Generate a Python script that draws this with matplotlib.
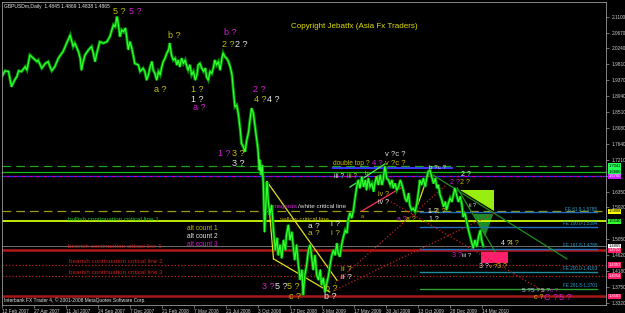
import numpy as np
import matplotlib
matplotlib.use("Agg")
import matplotlib.pyplot as plt
import matplotlib.transforms as mtransforms
from matplotlib.patches import Polygon, Rectangle

plt.rcParams["font.family"] = ["Liberation Sans", "DejaVu Sans"]

# daily closes: bar number counted from 12 Feb 2007, price
bars = [0, 5, 11, 16, 22, 25, 28, 33, 39, 42, 47, 53, 59, 61, 67, 73, 78, 81, 84, 89,
        95, 101, 103, 109, 115, 118, 120, 123, 129, 132, 134, 137, 140, 146, 151, 154, 157, 160, 165, 171,
        177, 182, 188, 191, 194, 196, 199, 202, 205, 208, 210, 213, 216, 219, 222, 224, 230, 233, 238, 241,
        244, 247, 250, 253, 255, 258, 261, 264, 267, 269, 272, 275, 278, 281, 283, 286, 289, 292, 295, 297,
        300, 303, 306, 309, 312, 314, 317, 320, 323, 326, 329, 331, 334, 337, 340, 343, 345, 348, 351, 354,
        357, 359, 362, 365, 368, 371, 373, 376, 379, 382, 385, 388, 390, 393, 396, 399, 402, 404, 407, 410,
        413, 416, 418, 421, 424, 427, 430, 432, 434, 435, 437, 439, 441, 443, 445, 447, 449, 452, 455, 458,
        461, 464, 466, 469, 472, 475, 478, 480, 483, 486, 489, 492, 494, 497, 500, 503, 506, 508, 511, 514,
        517, 520, 523, 525, 528, 531, 534, 537, 539, 542, 545, 548, 551, 553, 556, 559, 562, 565, 567, 570,
        573, 576, 579, 582, 584, 587, 590, 593, 596, 599, 601, 604, 607, 610, 613, 615, 618, 621, 624, 627,
        629, 632, 635, 638, 641, 643, 646, 649, 652, 655, 658, 660, 663, 666, 669, 672, 674, 677, 680, 683,
        686, 688, 691, 694, 697, 700, 703, 705, 708, 711, 714, 717, 719, 722, 725, 728, 731, 734, 736, 739,
        742, 745, 748, 750, 753, 756, 759, 762, 764, 767, 770, 773, 776, 778, 781, 784, 787, 790, 793, 795,
        798, 801, 804, 807, 809, 812]
close = [1.947, 1.963, 1.961, 1.920, 1.940, 1.947, 1.963, 1.961, 1.974, 1.965, 2.006, 1.997, 1.988, 1.992, 1.970, 1.983, 1.988, 1.974, 1.963, 1.974,
         1.997, 2.011, 2.015, 2.038, 2.060, 2.042, 2.029, 2.038, 2.015, 1.997, 1.965, 1.988, 2.006, 2.020, 2.029, 2.011, 1.988, 2.011, 2.042, 2.038,
         2.042, 2.056, 2.088, 2.083, 2.110, 2.092, 2.056, 2.074, 2.069, 2.079, 2.060, 2.021, 2.042, 2.024, 2.001, 1.983, 1.979, 1.961, 1.970, 1.961,
         1.938, 1.952, 1.974, 1.988, 1.965, 1.956, 1.938, 1.961, 1.952, 1.970, 1.988, 1.997, 2.011, 2.020, 2.038, 2.006, 1.992, 1.997, 1.979, 1.992,
         1.974, 1.997, 1.983, 1.992, 1.974, 1.965, 1.979, 1.952, 1.961, 1.938, 1.952, 1.979, 1.983, 1.970, 1.961, 1.970, 1.947, 1.938, 1.961, 1.956,
         1.974, 1.992, 1.979, 1.988, 1.965, 1.997, 2.011, 2.001, 1.997, 1.988, 1.974, 1.952, 1.915, 1.865, 1.870, 1.843, 1.802, 1.766, 1.757, 1.743,
         1.775, 1.797, 1.825, 1.861, 1.848, 1.811, 1.775, 1.748, 1.693, 1.721, 1.680, 1.707, 1.653, 1.525, 1.598, 1.661, 1.612, 1.571, 1.598, 1.530,
         1.476, 1.509, 1.462, 1.490, 1.454, 1.503, 1.476, 1.517, 1.544, 1.503, 1.525, 1.476, 1.449, 1.490, 1.435, 1.395, 1.422, 1.354, 1.408, 1.435,
         1.476, 1.490, 1.449, 1.422, 1.462, 1.408, 1.395, 1.422, 1.381, 1.400, 1.362, 1.386, 1.408, 1.431, 1.458, 1.476, 1.462, 1.494, 1.468, 1.458,
         1.490, 1.512, 1.530, 1.522, 1.558, 1.577, 1.563, 1.585, 1.621, 1.653, 1.666, 1.644, 1.675, 1.648, 1.666, 1.639, 1.671, 1.648, 1.657, 1.635,
         1.657, 1.675, 1.653, 1.680, 1.653, 1.666, 1.704, 1.671, 1.666, 1.653, 1.666, 1.644, 1.657, 1.639, 1.648, 1.666, 1.657, 1.639, 1.617, 1.607,
         1.630, 1.598, 1.585, 1.589, 1.580, 1.603, 1.639, 1.666, 1.653, 1.671, 1.648, 1.675, 1.689, 1.693, 1.675, 1.657, 1.671, 1.644, 1.653, 1.626,
         1.612, 1.594, 1.607, 1.585, 1.603, 1.617, 1.607, 1.630, 1.644, 1.626, 1.607, 1.621, 1.598, 1.566, 1.576, 1.553, 1.530, 1.512, 1.494, 1.481,
         1.503, 1.485, 1.512, 1.530, 1.503, 1.4865]

date_ticks = [0, 54, 108, 162, 216, 270, 324, 378, 432, 486, 540, 594, 648, 702, 756, 810]
date_labels = ["12 Feb 2007", "27 Apr 2007", "11 Jul 2007", "24 Sep 2007", "7 Dec 2007", "21 Feb 2008",
               "7 May 2008", "21 Jul 2008", "3 Oct 2008", "17 Dec 2008", "3 Mar 2009", "17 May 2009",
               "30 Jul 2009", "13 Oct 2009", "28 Dec 2009", "14 Mar 2010"]
price_ticks = [2.1100, 2.0670, 2.0240, 1.9810, 1.9370, 1.8940, 1.8510, 1.8080, 1.7640,
               1.7210, 1.6780, 1.6350, 1.5920, 1.5490, 1.5050, 1.4620, 1.4180, 1.3750, 1.3320]
# 1.6780 and 1.5490 sit under the level tags in the original, so no text is shown for them
price_labels = ["2.1100", "2.0670", "2.0240", "1.9810", "1.9370", "1.8940", "1.8510", "1.8080", "1.7640",
                "1.7210", "", "1.6350", "1.5920", "", "1.5050", "1.4620", "1.4180", "1.3750", "1.3320"]

# horizontal objects (price levels) and their tags on the price scale
levels = [1.7041, 1.6880, 1.6760, 1.5808, 1.5540, 1.4865, 1.4752, 1.4353, 1.4054, 1.3503]
level_tags = ["1.7041", "1.6880", "1.6760", "1.5808", "1.5540", "1.4865", "1.4752", "1.4353", "1.4054", "1.3503"]

# fibonacci expansion levels
fe_names = ["FE 61.8-1.5785", "FE 100.0-1.5394", "FE 161.8-1.4788", "FE 200.0-1.4163", "FE 261.8-1.3701"]
fe_levels = [1.5785, 1.5394, 1.4788, 1.4163, 1.3701]
fe_start, fe_end = 705, 1004

# trendlines: (bar1, price1, bar2, price2)
yellow_lines = [(447, 1.662, 565, 1.394), (447, 1.662, 458, 1.452), (458, 1.452, 553, 1.362), (697, 1.579, 722, 1.693)]
green_lines = [(727, 1.680, 953, 1.452), (768, 1.645, 832, 1.471)]
red_dotted = [(559, 1.365, 835, 1.579), (562, 1.386, 753, 1.658), (651, 1.612, 916, 1.362)]

Y, M, W = "#c8c000", "#d21ed2", "#e6e6e6"
# wave counts: text, bar, price, colour, size
waves = [
    ("5 ?", 197, 2.124, Y, 6.5), ("5 ?", 224, 2.124, M, 6.5),
    ("a ?", 267, 1.911, Y, 6.5), ("b ?", 290, 2.060, Y, 6.5),
    ("1 ?", 330, 1.911, Y, 6.5), ("1 ?", 330, 1.886, W, 6.5), ("a ?", 332, 1.862, M, 6.5),
    ("b ?", 385, 2.067, M, 6.5), ("2 ?", 381, 2.035, Y, 6.5), ("2 ?", 403, 2.035, W, 6.5),
    ("2 ?", 434, 1.913, M, 6.5), ("4 ?", 436, 1.884, Y, 6.5), ("4 ?", 458, 1.884, W, 6.5),
    ("1 ?", 375, 1.737, M, 6.5), ("3 ?", 398, 1.737, Y, 6.5), ("3 ?", 398, 1.710, W, 6.5),
    ("double top ?", 589, 1.712, Y, 4.8), ("4 ?", 633, 1.712, M, 5.5), ("v ?c ?", 663, 1.712, Y, 5.5),
    ("v ?c ?", 663, 1.736, W, 5.5), ("iii ?", 569, 1.677, W, 4.8), ("iii ?", 590, 1.677, Y, 4.8),
    ("b", 615, 1.683, Y, 4.5), ("d", 632, 1.674, Y, 4.5),
    ("iv ?", 643, 1.626, Y, 5.0), ("iv ?", 643, 1.604, W, 5.0), ("a", 607, 1.566, Y, 4.0),
    ("a ?", 674, 1.558, M, 5.0), ("a ?", 689, 1.558, Y, 5.0),
    ("1 ?", 727, 1.582, W, 5.0), ("1 ?", 741, 1.582, Y, 5.0), ("1 ?", 729, 1.558, W, 5.0),
    ("b ?c ?", 734, 1.699, W, 4.5), ("2 ?", 783, 1.680, W, 5.0), ("2 ?", 764, 1.660, M, 5.0), ("2 ?", 781, 1.660, Y, 5.0),
    ("ii ?", 793, 1.596, W, 4.0), ("4 ?", 850, 1.494, W, 5.0), ("4 ?", 864, 1.494, Y, 5.0),
    ("3 ?", 767, 1.462, M, 5.0), ("iii ?", 784, 1.462, W, 4.5),
    ("3 ?", 813, 1.431, W, 5.0), ("v ?", 829, 1.431, Y, 4.5), ("3 ?", 844, 1.431, Y, 5.0),
    ("5 ?", 884, 1.367, "#c8c8ff", 4.6), ("5 ?", 900, 1.367, "#c8c8ff", 4.6), ("5 ?", 916, 1.367, "#c8c8ff", 4.6),
    ("c ?", 932, 1.367, M, 4.6),
    ("c ?", 906, 1.348, Y, 5.0), ("C ?", 926, 1.348, M, 6.5), ("5 ?", 950, 1.348, M, 6.5),
    ("c ?", 494, 1.349, Y, 6.5), ("b ?", 554, 1.349, W, 6.5), ("b ?", 555, 1.372, Y, 6.5),
    ("3 ?", 449, 1.376, M, 6.5), ("5 ?", 471, 1.376, W, 6.5), ("5 ?", 492, 1.376, Y, 6.5),
    ("a ?", 527, 1.541, W, 6.0), ("a ?", 527, 1.520, Y, 6.0),
    ("i ?", 562, 1.546, W, 6.0), ("i ?", 562, 1.522, Y, 6.0),
    ("ii ?", 581, 1.424, Y, 6.0), ("ii ?", 581, 1.401, W, 6.0),
    ("alt count 1", 338, 1.534, Y, 4.8), ("alt count 2", 338, 1.512, W, 4.8), ("alt count 3", 338, 1.490, M, 4.8),
    ("bullish continuation critical line 1", 188, 1.5595, "#2ec82e", 4.6),
    ("bearish continuation critical line 1", 191, 1.485, "#c82020", 4.6),
    ("bearish continuation critical line 2", 192, 1.446, "#c82020", 4.6),
    ("bearish continuation critical line 3", 192, 1.416, "#c82020", 4.6),
]

fig = plt.figure(figsize=(6.25, 3.13), dpi=100, facecolor="black")
ax = fig.add_axes([2 / 625, 8 / 313, 604 / 625, 303 / 313], facecolor="black")
ax.set_xlim(0, 1019)
ax.set_ylim(1.3266, 2.1500)

# price levels
ax.axhline(1.7041, color="#1fa01f", lw=0.9, dashes=(7, 4))
ax.axhline(1.6880, color="#10c010", lw=0.9)
ax.axhline(1.6760, color="#3030ff", lw=0.9, dashes=(3, 3))
ax.axhline(1.6760, color="#c000c0", lw=0.9, linestyle=(3, (3, 3)))
ax.axhline(1.5808, color="#a09a10", lw=0.9, dashes=(7, 4))
ax.axhline(1.5540, color="#ccff00", lw=1.3)
ax.axhline(1.4865, color="#707070", lw=0.7)
ax.axhline(1.4752, color="#b01818", lw=1.8)
ax.axhline(1.4353, color="#c02020", lw=0.9, linestyle=":")
ax.axhline(1.4054, color="#c02020", lw=0.9, linestyle=":")
ax.axhline(1.3503, color="#a81818", lw=1.8)

# fibonacci expansion lines
fe_colors = ["#1e6fc0", "#1e6fc0", "#1e6fc0", "#1e8fa0", "#2ea02e"]
for name, lv, c in zip(fe_names, fe_levels, fe_colors):
    ax.plot([fe_start, fe_end], [lv, lv], color=c, lw=1.0)
    ax.text(fe_end, lv + 0.002, name, color="#2aa0d0", fontsize=3.3, ha="right", va="bottom")

# shapes
ax.add_patch(Rectangle((557, 1.696), 204, 0.0065, color="#3535ff", lw=0))
ax.add_patch(Polygon([(773, 1.639), (830, 1.639), (830, 1.582)], closed=True, color="#99ee11", lw=0))
ax.add_patch(Polygon([(795, 1.574), (829, 1.574), (815, 1.512)], closed=True, color="#1f8a2a", lw=0))
ax.add_patch(Rectangle((808, 1.4399), 46, 0.0315, color="#ff1f6a", lw=0))

for x1, y1, x2, y2 in yellow_lines:
    ax.plot([x1, x2], [y1, y2], color="#e0e020", lw=0.9)
for x1, y1, x2, y2 in green_lines:
    ax.plot([x1, x2], [y1, y2], color="#1f8f1f", lw=0.9)
for x1, y1, x2, y2 in red_dotted:
    ax.plot([x1, x2], [y1, y2], color="#c02020", lw=0.9, linestyle=":")
ax.plot([587, 646], [1.647, 1.710], color="#55ee55", lw=0.9)
ax.plot([607, 672], [1.582, 1.644], color="#ff3355", lw=0.9)

# price line
ax.plot(bars, close, color="#008f00", lw=2.2, solid_joinstyle="miter")
ax.plot(bars, close, color="#33ff33", lw=0.9)

# wave count labels and notes
for txt, b, p, c, s in waves:
    ax.text(b, p, txt, color=c, fontsize=s, ha="center", va="center")
t1 = ax.text(457, 1.593, "magenta", color=M, fontsize=4.6, ha="left", va="center")
ax.annotate("/white critical line", xy=(1, 0), xycoords=t1, color=W, fontsize=4.6, ha="left", va="bottom")
ax.text(469, 1.5595, "yellow critical line", color=Y, fontsize=4.6, ha="left", va="center")

ax.text(0.583, 0.919, "Copyright Jebatfx (Asia Fx Traders)", transform=ax.transAxes, color="#e0e000",
        fontsize=5.8, ha="center", va="center")
ax.text(0.004, 0.985, "GBPUSDm,Daily  1.4845 1.4869 1.4838 1.4865", transform=ax.transAxes,
        color=W, fontsize=3.6, ha="left", va="center")
ax.text(0.003, 0.017, "Interbank FX Trader 4, \u00a9 2001-2008 MetaQuotes Software Corp.", transform=ax.transAxes,
        color=W, fontsize=3.5, ha="left", va="center")

# axes
for sp in ax.spines.values():
    sp.set_color("#9a9a9a")
    sp.set_linewidth(0.6)
ax.set_xticks(date_ticks)
ax.set_xticklabels(date_labels, ha="left", fontsize=3.4, color="#d0d0d0")
ax.tick_params(axis="x", length=2, width=0.5, color="#9a9a9a", pad=1)
ax.yaxis.tick_right()
ax.set_yticks(price_ticks)
ax.set_yticklabels(price_labels, fontsize=3.4, color="#d0d0d0")
ax.tick_params(axis="y", length=2, width=0.5, color="#9a9a9a", pad=2)

# tags on the price scale
tag_bg = ["#22ff55", "#22ff55", "#cc22ff", "#ffff00", "#33ff33", "#ffffff", "#ff1f6a", "#ff1f6a", "#ff1f6a", "#ff1f6a"]
tag_fg = ["black", "black", "white", "black", "black", "black", "white", "white", "white", "white"]
trans = mtransforms.blended_transform_factory(ax.transAxes, ax.transData)
for lv, tag, bg, fg in zip(levels, level_tags, tag_bg, tag_fg):
    ax.text(1.004, lv, tag, transform=trans, fontsize=3.0, color=fg, ha="left", va="center",
            bbox=dict(boxstyle="square,pad=0.15", fc=bg, ec="none"), clip_on=False)

fig.savefig("out.png", dpi=100, facecolor="black")
